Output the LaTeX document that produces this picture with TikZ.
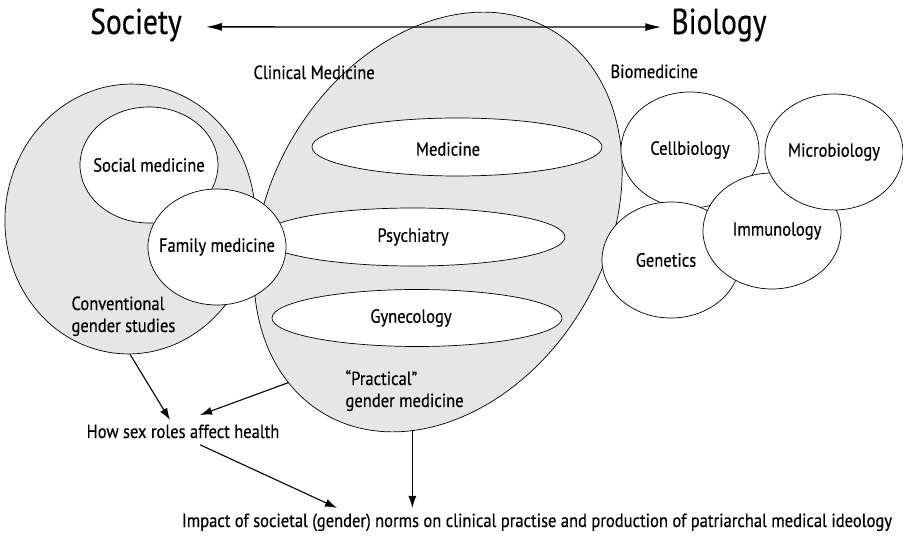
\documentclass[tikz,border=0pt]{standalone}
\usepackage{fontspec}
\setmainfont[FakeStretch=0.87, FakeBold=0.4]{PT Sans}
\newfontfamily\polefont[FakeStretch=0.82, FakeBold=0.4]{PT Sans}
\usetikzlibrary{positioning,shapes.geometric,arrows.meta}
\definecolor{fieldgray}{RGB}{230,230,230}
\tikzstyle{field} = [draw, ellipse, fill=fieldgray, inner sep = 0pt, line width = 0.7pt]
\tikzstyle{subject} = [draw, ellipse, fill=white, inner sep = 0pt, line width = 0.7pt, minimum width = 138pt, minimum height = 116pt]
\tikzstyle{branch} = [draw, ellipse, fill=white, inner sep = 0pt, line width = 0.7pt, minimum height = 58pt]
\tikzstyle{pole} = [font=\polefont\fontsize{36}{40}\selectfont, inner sep = 0pt]
\tikzstyle{edge} = [-{Latex[length=12pt,width=8pt]}, line width = 1.1pt]
\tikzstyle{axis} = [{Latex[length=16pt,width=8pt]}-{Latex[length=16pt,width=8pt]}, line width = 1.3pt]

\begin{document}
\begin{tikzpicture}[x=1pt, y=1pt, font=\fontsize{19}{22}\selectfont]
	\useasboundingbox (0,0) rectangle (903,-537);

	% fields
	\node[field, minimum width = 250pt, minimum height = 270pt, rotate=-5] (gender) at ( 130, -219 ) {};
	\node[field, minimum width = 446pt, minimum height = 336pt, rotate=59] (clinical) at ( 438, -222 ) {};

	% disciplines
	\node[subject, label=center:Social medicine] (social) at ( 149, -165 ) {};
	\node[branch, minimum width = 290pt, label={[xshift=-9pt, yshift=-2pt]center:Medicine}] (medicine) at ( 457, -147 ) {};
	\node[branch, minimum width = 304pt, label=center:Psychiatry] (psychiatry) at ( 413, -237 ) {};
	\node[branch, minimum width = 290pt, minimum height = 57pt, label={[xshift=-6pt]center:Gynecology}] (gynecology) at ( 417, -318 ) {};
	\node[subject, label=center:Family medicine] (family) at ( 217, -247 ) {};

	\node[subject, label=center:Cellbiology] (cell) at ( 690, -150 ) {};
	\node[subject, label={[xshift=-5pt]center:Genetics}] (genetics) at ( 671, -260 ) {};
	\node[subject, label={[xshift=5pt]center:Immunology}] (immuno) at ( 772, -231 ) {};
	\node[subject, label=center:Microbiology] (micro) at ( 834, -152 ) {};

	% captions
	\node[pole, anchor=base] (society) at ( 136, -34 ) {Society};
	\node[pole, anchor=base] (biology) at ( 719, -34 ) {Biology};
	\node[anchor=base west] (clinicalname) at ( 250, -79 ) {Clinical Medicine};
	\node[anchor=base west] (bioname) at ( 607, -78 ) {Biomedicine};
	\node[anchor=base west, align=left] (conventional) at ( 68, -332 ) {Conventional\\gender studies};
	\node[anchor=base west, align=left] (practical) at ( 342, -407 ) {“Practical”\\gender medicine};
	\node[anchor=base] (health) at ( 183, -438 ) {How sex roles affect health};
	\node[anchor=base] (impact) at ( 537, -527 ) {Impact of societal (gender) norms on clinical practise and production of patriarchal medical ideology};

	\draw[axis] ([xshift=24pt, yshift=-2pt]society.east) -- ([xshift=-10pt, yshift=-2pt]biology.west);
	\draw[edge] (gender.-85) -- ([xshift=-13pt, yshift=1pt]health.north);
	\draw[edge] (clinical.168) -- ([xshift=17pt, yshift=6pt]health.north);
	\draw[edge] ([xshift=17pt, yshift=-3pt]health.south) -- ([xshift=-200pt, yshift=2pt]impact.north);
	\draw[edge] (clinical.204) -- ([yshift=2pt]clinical.204 |- impact.north);
\end{tikzpicture}
\end{document}
